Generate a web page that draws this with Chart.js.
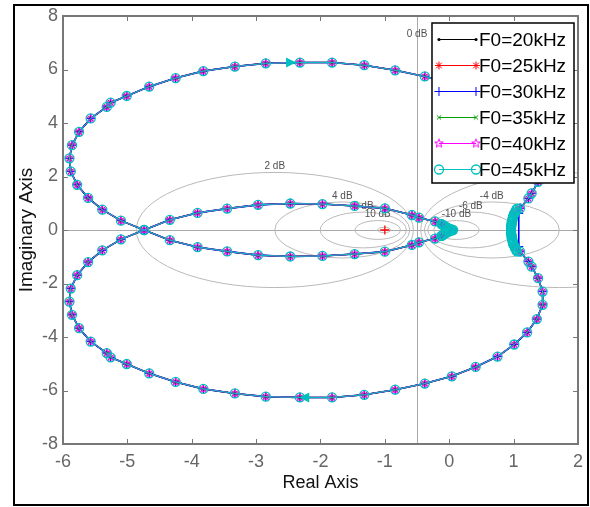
<!DOCTYPE html>
<html>
<head>
<meta charset="utf-8">
<script src="https://cdn.jsdelivr.net/npm/chart.js@4.4.1/dist/chart.umd.min.js"></script>
<style>
  html, body { margin: 0; padding: 0; background: #fff; }
  canvas { display: block; }
</style>
</head>
<body>
<canvas id="nyquist" width="590" height="507"></canvas>
<script>
// ---- data (Real / Imaginary parts) ----
var seriesNames = ['F0=20kHz', 'F0=25kHz', 'F0=30kHz', 'F0=35kHz', 'F0=40kHz', 'F0=45kHz'];

// lower inner loop, crossing, upper outer arc down to the right side
var loopRe = [-0.12, -0.22, -0.47, -0.58, -1.00, -1.47, -1.97, -2.47, -2.97, -3.45, -3.91, -4.34, -4.74,
  -5.10, -5.39, -5.61, -5.78, -5.88, -5.90, -5.86, -5.75, -5.57, -5.32, -5.26, -5.01, -4.66, -4.25, -3.82,
  -3.33, -2.85, -2.32, -1.82, -1.32, -0.84, -0.38, 0.04, 0.41, 0.75, 1.01, 1.21, 1.36, 1.45, 1.45, 1.38,
  1.28, 1.23, 1.10];
var loopIm = [-0.22, -0.32, -0.46, -0.56, -0.81, -0.90, -0.97, -0.99, -0.94, -0.80, -0.64, -0.38, 0,
  0.35, 0.76, 1.20, 1.69, 2.19, 2.68, 3.17, 3.67, 4.17, 4.60, 4.76, 5.01, 5.36, 5.68, 5.94,
  6.11, 6.23, 6.26, 6.26, 6.16, 5.97, 5.74, 5.47, 5.12, 4.73, 4.28, 3.83, 3.33, 2.80, 2.30, 1.80,
  1.37, 1.18, 0.81];

// right side near +1 (30kHz sits slightly further right)
var bandRe = [1.00, 1.00];
var bandIm = [0.62, -0.62];
var band30Re = [1.08, 1.08];
var band30Im = [0.62, -0.62];

// lower outer arc, crossing, upper inner loop back towards the origin
var backRe = [1.10, 1.23, 1.28, 1.38, 1.45, 1.45, 1.36, 1.21, 1.01, 0.75, 0.41, 0.04, -0.38, -0.84,
  -1.32, -1.82, -2.32, -2.85, -3.33, -3.82, -4.25, -4.66, -5.01, -5.26, -5.32, -5.57, -5.75, -5.86,
  -5.90, -5.88, -5.78, -5.61, -5.39, -5.10, -4.74, -4.34, -3.91, -3.45, -2.97, -2.47, -1.97, -1.47,
  -1.00, -0.58, -0.47, -0.22, -0.12];
var backIm = [-0.81, -1.18, -1.37, -1.80, -2.30, -2.80, -3.33, -3.83, -4.28, -4.73, -5.12, -5.47, -5.74, -5.97,
  -6.16, -6.26, -6.26, -6.23, -6.11, -5.94, -5.68, -5.36, -5.01, -4.76, -4.60, -4.17, -3.67, -3.17,
  -2.68, -2.19, -1.69, -1.20, -0.76, -0.35, 0, 0.38, 0.64, 0.80, 0.94, 0.99, 0.97, 0.90,
  0.81, 0.56, 0.46, 0.32, 0.22];

var tipRe = [0.06];
var tipIm = [0];

// F0=45kHz has many closely spaced points near +1 and near the origin
var band45Re = [1.05, 1.04, 1.03, 1.02, 1.01, 1.00, 0.99, 0.99, 0.98, 0.98, 0.97, 0.97, 0.97, 0.96, 0.96, 0.96, 0.96,
  0.96, 0.96, 0.96, 0.97, 0.97, 0.97, 0.98, 0.98, 0.99, 0.99, 1.00, 1.01, 1.02, 1.03, 1.04, 1.05];
var band45Im = [0.80, 0.75, 0.70, 0.65, 0.60, 0.55, 0.50, 0.45, 0.40, 0.35, 0.30, 0.25, 0.20, 0.15, 0.10, 0.05, 0,
  -0.05, -0.10, -0.15, -0.20, -0.25, -0.30, -0.35, -0.40, -0.45, -0.50, -0.55, -0.60, -0.65, -0.70, -0.75, -0.80];
var tip45Re = [-0.12, -0.10, -0.08, -0.06, -0.04, -0.02, 0.00, 0.02, 0.04, 0.06, 0.04, 0.02, 0.00, -0.02, -0.04, -0.06, -0.08, -0.10, -0.12];
var tip45Im = [0.22, 0.19, 0.16, 0.13, 0.10, 0.07, 0.05, 0.03, 0.015, 0, -0.015, -0.03, -0.05, -0.07, -0.10, -0.13, -0.16, -0.19, -0.22];

// critical point -1+j0
var critRe = [-1];
var critIm = [0];

// direction arrows on the 45kHz curve
var arrowRe = [-2.38, -2.33];
var arrowIm = [6.26, -6.26];
var arrowDir = [1, -1];

// M-circles (dB) of the Nyquist grid, and which get a label
var contourDb = [-20, -10, -6, -4, -2, 2, 4, 6, 10, 20];
var labelDb = [-10, -6, -4, -2, 2, 4, 6, 10];

var xMin = -6, xMax = 2, xStep = 1;
var yMin = -8, yMax = 8, yStep = 2;

// ---- styles ----
var FONT = '"Liberation Sans", Arial, sans-serif';
var seriesColors = ['#000000', '#ff0000', '#0000ff', '#00a000', '#ff00ff', '#00bfbf'];
var seriesWidths = [1.5, 1, 1.6, 1, 1, 1];

function pentagram(color, r) {
  var c = document.createElement('canvas');
  var s = Math.ceil(r * 2 + 3);
  c.width = c.height = s;
  var g = c.getContext('2d');
  g.strokeStyle = color;
  g.lineWidth = 1;
  g.beginPath();
  for (var i = 0; i < 10; i++) {
    var a = -Math.PI / 2 + i * Math.PI / 5;
    var rr = i % 2 ? r * 0.42 : r;
    g.lineTo(s / 2 + rr * Math.cos(a), s / 2 + rr * Math.sin(a));
  }
  g.closePath();
  g.stroke();
  return c;
}

var seriesMarkers = [
  { style: 'circle', radius: 1.6, fill: true, width: 0 },
  { style: 'star', radius: 4, fill: false, width: 1 },
  { style: 'cross', radius: 4.5, fill: false, width: 1 },
  { style: 'crossRot', radius: 3, fill: false, width: 1 },
  { style: pentagram('#ff00ff', 4.5), radius: 4.5, fill: false, width: 1 },
  { style: 'circle', radius: 4.5, fill: false, width: 1.3 }
];

function toPoints(re, im) {
  return re.map(function (v, i) { return { x: v, y: im[i] }; });
}

var commonPath = toPoints(tipRe.concat(loopRe, bandRe, backRe, tipRe), tipIm.concat(loopIm, bandIm, backIm, tipIm));
var path30 = toPoints(tipRe.concat(loopRe, band30Re, backRe, tipRe), tipIm.concat(loopIm, band30Im, backIm, tipIm));
var path45 = toPoints(loopRe.concat(band45Re, backRe, tip45Re), loopIm.concat(band45Im, backIm, tip45Im));

var datasets = seriesNames.map(function (name, i) {
  var mk = seriesMarkers[i];
  return {
    label: name,
    data: i === 5 ? path45 : (i === 2 ? path30 : commonPath),
    showLine: true,
    borderColor: seriesColors[i],
    borderWidth: seriesWidths[i],
    pointStyle: mk.style,
    pointRadius: mk.radius,
    pointHoverRadius: mk.radius,
    pointBorderColor: seriesColors[i],
    pointBackgroundColor: mk.fill ? seriesColors[i] : 'rgba(0,0,0,0)',
    pointBorderWidth: mk.width,
    order: 6 - i
  };
});
datasets.push({
  label: 'critical',
  data: toPoints(critRe, critIm),
  showLine: false,
  pointStyle: 'cross',
  pointRadius: 4.5,
  pointBorderColor: '#ff0000',
  pointBorderWidth: 1.3,
  order: 0
});

// M-circles, the real axis and the 0 dB line
var gridPlugin = {
  id: 'mgrid',
  beforeDatasetsDraw: function (chart) {
    var ctx = chart.ctx, a = chart.chartArea;
    var xs = chart.scales.x, ys = chart.scales.y;
    ctx.save();
    ctx.beginPath();
    ctx.rect(a.left, a.top, a.right - a.left, a.bottom - a.top);
    ctx.clip();
    ctx.lineWidth = 1;
    ctx.strokeStyle = '#a9a9a9';
    var y0 = Math.round(ys.getPixelForValue(0)) + 0.5;
    var x0 = Math.round(xs.getPixelForValue(-0.5)) + 0.5;
    ctx.beginPath();
    ctx.moveTo(a.left, y0); ctx.lineTo(a.right, y0);
    ctx.moveTo(x0, a.top); ctx.lineTo(x0, a.bottom);
    ctx.stroke();

    ctx.strokeStyle = '#b9b9b9';
    contourDb.forEach(function (db) {
      var m = Math.pow(10, db / 20);
      var c = -m * m / (m * m - 1);
      var r = Math.abs(m / (m * m - 1));
      var cx = xs.getPixelForValue(c), cy = ys.getPixelForValue(0);
      var rx = Math.abs(xs.getPixelForValue(c + r) - cx);
      var ry = Math.abs(ys.getPixelForValue(r) - cy);
      ctx.beginPath();
      ctx.ellipse(cx, cy, rx, ry, 0, 0, Math.PI * 2);
      ctx.stroke();
    });

    ctx.fillStyle = '#505050';
    ctx.font = '10px ' + FONT;
    ctx.textAlign = 'center';
    ctx.textBaseline = 'bottom';
    labelDb.forEach(function (db) {
      var m = Math.pow(10, db / 20);
      var c = -m * m / (m * m - 1);
      var r = Math.abs(m / (m * m - 1));
      ctx.fillText(db + ' dB', xs.getPixelForValue(c), ys.getPixelForValue(r) - 1);
    });
    ctx.fillText('0 dB', xs.getPixelForValue(-0.5), ys.getPixelForValue(yMax) + 23);
    ctx.restore();
  },
  afterDatasetsDraw: function (chart) {
    var ctx = chart.ctx, a = chart.chartArea;
    var xs = chart.scales.x, ys = chart.scales.y;

    // direction arrows
    ctx.save();
    ctx.fillStyle = seriesColors[5];
    arrowRe.forEach(function (re, i) {
      var px = xs.getPixelForValue(re), py = ys.getPixelForValue(arrowIm[i]);
      var d = arrowDir[i];
      ctx.beginPath();
      ctx.moveTo(px, py);
      ctx.lineTo(px - d * 10, py - 5);
      ctx.lineTo(px - d * 10, py + 5);
      ctx.closePath();
      ctx.fill();
    });

    // box and inward ticks
    ctx.strokeStyle = '#777';
    ctx.lineWidth = 2;
    ctx.strokeRect(a.left, a.top, a.right - a.left, a.bottom - a.top);
    ctx.lineWidth = 1;
    ctx.beginPath();
    xs.ticks.forEach(function (t) {
      if (t.value <= xMin || t.value >= xMax) return;
      var px = Math.round(xs.getPixelForValue(t.value)) + 0.5;
      ctx.moveTo(px, a.bottom); ctx.lineTo(px, a.bottom - 5);
      ctx.moveTo(px, a.top); ctx.lineTo(px, a.top + 5);
    });
    ys.ticks.forEach(function (t) {
      if (t.value <= yMin || t.value >= yMax) return;
      var py = Math.round(ys.getPixelForValue(t.value)) + 0.5;
      ctx.moveTo(a.left, py); ctx.lineTo(a.left + 5, py);
      ctx.moveTo(a.right, py); ctx.lineTo(a.right - 5, py);
    });
    ctx.stroke();
    ctx.restore();
  },
  afterDraw: function (chart) {
    var ctx = chart.ctx, a = chart.chartArea;
    ctx.save();
    // legend in the upper right corner
    var bw = 142, bh = 160;
    var bx = a.right - 4 - bw, by = a.top + 7;
    ctx.fillStyle = '#fff';
    ctx.fillRect(bx, by, bw, bh);
    ctx.strokeStyle = '#000';
    ctx.lineWidth = 1.5;
    ctx.strokeRect(bx, by, bw, bh);
    ctx.font = '19px ' + FONT;
    ctx.textBaseline = 'middle';
    ctx.textAlign = 'left';
    seriesNames.forEach(function (name, i) {
      var y = Math.round(by + 15.5 + i * 26) + 0.5;
      var x1 = bx + 7, x2 = bx + 44;
      var mk = seriesMarkers[i];
      ctx.strokeStyle = seriesColors[i];
      ctx.lineWidth = 1;
      ctx.beginPath();
      ctx.moveTo(x1, y); ctx.lineTo(x2, y);
      ctx.stroke();
      [x1, x2].forEach(function (x) {
        ctx.save();
        ctx.fillStyle = mk.fill ? seriesColors[i] : 'rgba(0,0,0,0)';
        ctx.lineWidth = mk.width || 1;
        Chart.helpers.drawPoint(ctx, { pointStyle: mk.style, radius: mk.radius, rotation: 0, borderWidth: mk.width }, x, y);
        ctx.restore();
      });
      ctx.fillStyle = '#000';
      ctx.fillText(name, bx + 47, y + 1);
    });
    // outer figure frame
    ctx.strokeStyle = '#000';
    ctx.lineWidth = 2;
    ctx.strokeRect(14, 5, 574, 500);
    ctx.restore();
  }
};

var ctx = document.getElementById('nyquist').getContext('2d');
var chart = new Chart(ctx, {
  type: 'scatter',
  data: { datasets: datasets },
  options: {
    responsive: false,
    animation: false,
    events: [],
    layout: { padding: { left: 15, top: 16, right: 9, bottom: 0 } },
    plugins: { legend: { display: false }, tooltip: { enabled: false } },
    scales: {
      x: {
        type: 'linear', min: xMin, max: xMax,
        grid: { display: false, drawTicks: false },
        border: { display: false },
        ticks: { stepSize: xStep, padding: 7, color: '#666', font: { family: FONT, size: 18 } },
        title: { display: true, text: 'Real Axis', color: '#111', padding: { top: 0, bottom: 13 }, font: { family: FONT, size: 18 } },
        afterFit: function (s) { s.height = 63; }
      },
      y: {
        type: 'linear', min: yMin, max: yMax,
        grid: { display: false, drawTicks: false },
        border: { display: false },
        ticks: { stepSize: yStep, padding: 5, color: '#666', font: { family: FONT, size: 18 } },
        title: { display: true, text: 'Imaginary Axis', color: '#111', padding: { top: 0, bottom: 0 }, font: { family: FONT, size: 19 } },
        afterFit: function (s) { s.width = 48; }
      }
    }
  },
  plugins: [gridPlugin]
});
</script>
</body>
</html>
